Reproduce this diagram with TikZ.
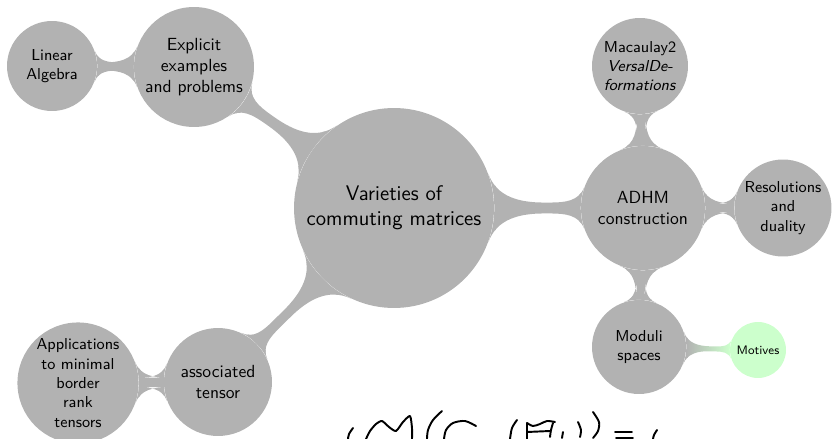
\documentclass[tikz,border=0pt]{standalone}
\usetikzlibrary{mindmap,backgrounds}

\tikzset{
  topic/.style={circle, fill=black!30, text=black, inner sep=0pt, align=center, font=\sffamily},
  conn/.style={circle connection bar switch color=from (black!30) to (#1)},
  conn/.default={black!30},
  ink/.style={line width=1.1pt, line cap=round, line join=round}
}

\begin{document}
\begin{tikzpicture}[x=0.02cm, y=-0.02cm]
\useasboundingbox (0,0) rectangle (832,439);

% root
\node[topic, minimum size=4cm, font=\sffamily\large] (root) at (394,208) {Varieties of\\commuting matrices};

% level 1
\node[topic, minimum size=2.48cm] (adhm) at (643,208) {ADHM\\construction};
\node[topic, minimum size=2.4cm] (expl) at (194,67) {Explicit\\examples\\and problems};
\node[topic, minimum size=2.16cm] (assoc) at (218,382) {associated\\tensor};

% level 2
\node[topic, minimum size=1.92cm, font=\sffamily\small] (maca) at (640,66) {Macaulay2\\\textit{VersalDe-}\\\textit{formations}};
\node[topic, minimum size=1.94cm, font=\sffamily\small] (resol) at (783,208) {Resolutions\\and\\duality};
\node[topic, minimum size=1.88cm, font=\sffamily\small] (moduli) at (639,347) {Moduli\\spaces};
\node[topic, minimum size=1.8cm, font=\sffamily\small] (linear) at (52,66) {Linear\\Algebra};
\node[topic, minimum size=2.4cm, font=\sffamily\small] (appl) at (78,383) {Applications\\to minimal\\border\\rank\\tensors};

% level 3
\node[topic, fill=green!20, minimum size=1.12cm, font=\sffamily\scriptsize] (motives) at (758,350) {Motives};

% connections, behind the circles
\begin{scope}[on background layer]
\path (root) to[conn] (adhm);
\path (root) to[conn] (expl);
\path (root) to[conn] (assoc);
\path (adhm) to[conn] (maca);
\path (adhm) to[conn] (resol);
\path (adhm) to[conn] (moduli);
\path (expl) to[conn] (linear);
\path (assoc) to[conn] (appl);
\path (moduli) to[conn=green!20] (motives);
\end{scope}

% handwritten note
\draw[ink] plot[smooth] coordinates {(353,428) (349,434) (348,439)};
\draw[ink] plot[smooth, tension=0.4] coordinates {(366,439) (370,431) (376,424) (382,421) (389,427) (396,431) (403,422) (410,416) (412,428) (412,439)};
\draw[ink] plot[smooth] coordinates {(442,411) (433,420) (428,430) (427,439)};
\draw[ink] plot[smooth] coordinates {(476,426) (465,421) (453,423) (446,430) (444,439)};
\draw[ink] plot[smooth] coordinates {(517,420) (512,428) (510,439)};
\draw[ink] (527,423) -- (527,439);
\draw[ink] plot[smooth] coordinates {(527,423) (533,426) (540,424) (547,421) (555,422)};
\draw[ink] plot[smooth] coordinates {(553,423) (551,430) (550,437)};
\draw[ink] (527,432) -- (550,431);
\draw[ink] (563,432) -- (562,438);
\draw[ink] plot[smooth] coordinates {(578,422) (581,430) (580,437)};
\draw[ink] plot[smooth] coordinates {(593,412) (599,422) (598,431) (593,438)};
\draw[ink] (615,432) -- (632,432);
\draw[ink] (616,438) -- (633,438);
\draw[ink] plot[smooth] coordinates {(657,430) (654,435) (653,439)};

\end{tikzpicture}
\end{document}
